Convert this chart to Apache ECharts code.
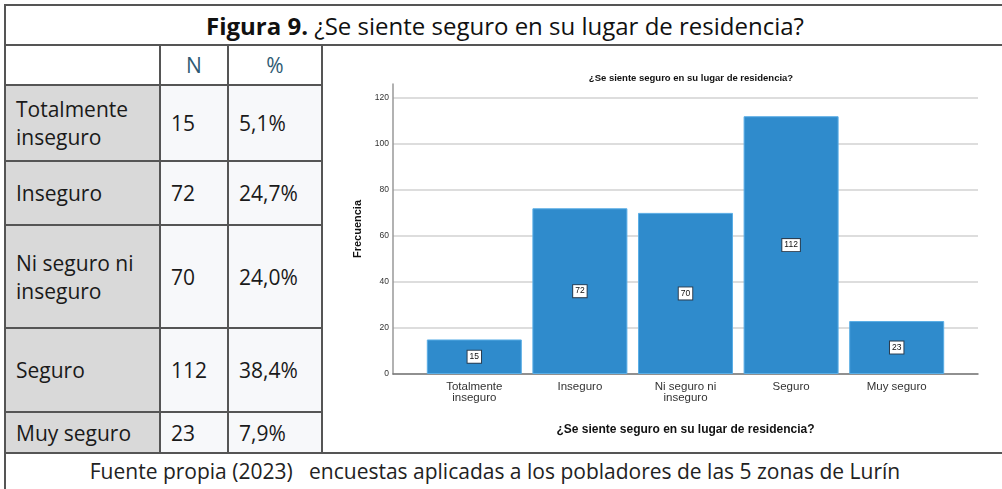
<!DOCTYPE html>
<html>
<head>
<meta charset="utf-8">
<script src="https://cdn.jsdelivr.net/npm/echarts@6/dist/echarts.min.js"></script>
<style>
  html, body { margin:0; padding:0; background:#fff; }
  body { width:1002px; height:489px; position:relative; overflow:hidden; font-family:"Open Sans", "Noto Sans", sans-serif; color:#1a1a1a; }
  .cell { position:absolute; display:flex; align-items:center; box-sizing:border-box; font-size:21px; line-height:28px; }
  .lab { background:#d9d9d9; padding-left:11px; }
  .num { background:#f7f8fa; padding-left:11px; }
  .hdr { justify-content:center; color:#2f5b73; }
  .ln { position:absolute; background:#555; }
  #title { position:absolute; left:5px; top:5px; width:1000px; height:40px; display:flex; align-items:center; justify-content:center; font-size:24px; color:#111; white-space:nowrap; }
  #foot { position:absolute; left:5px; top:453px; width:980px; height:36px; display:flex; align-items:center; justify-content:center; font-size:21px; color:#222; white-space:pre; }
  #chart { position:absolute; left:0; top:0; width:1002px; height:489px; z-index:5; pointer-events:none; }
</style>
</head>
<body>
<div id="title"><b>Figura 9.</b>&nbsp;¿Se siente seguro en su lugar de residencia?</div>
<div id="table"></div>
<div id="foot"></div>
<div id="lines"></div>
<div id="chart"></div>
<script>
// ---- data ----
const rowLabels = ['Totalmente\ninseguro', 'Inseguro', 'Ni seguro ni\ninseguro', 'Seguro', 'Muy seguro'];
const categories = ['Totalmente\ninseguro', 'Inseguro', 'Ni seguro ni\ninseguro', 'Seguro', 'Muy seguro'];
const frecuencia = [15, 72, 70, 112, 23];
const porcentajes = ['5,1%', '24,7%', '24,0%', '38,4%', '7,9%'];
const headerN = 'N';
const headerPct = '%';
const chartTitle = '¿Se siente seguro en su lugar de residencia?';
const xAxisName = '¿Se siente seguro en su lugar de residencia?';
const yAxisName = 'Frecuencia';
const footText = 'Fuente propia (2023)   encuestas aplicadas a los pobladores de las 5 zonas de Lurín';

// ---- table layout ----
const colX = [5, 160, 228, 322];
const rowY = [45, 85, 161, 225, 328, 412, 453];
const table = document.getElementById('table');
function addCell(cls, x0, x1, y0, y1, html) {
  const d = document.createElement('div');
  d.className = 'cell ' + cls;
  d.style.left = x0 + 'px'; d.style.top = y0 + 'px';
  d.style.width = (x1 - x0) + 'px'; d.style.height = (y1 - y0) + 'px';
  d.innerHTML = html;
  table.appendChild(d);
}
addCell('hdr', colX[1], colX[2], rowY[0], rowY[1], headerN);
addCell('hdr', colX[2], colX[3], rowY[0], rowY[1], headerPct);
for (let i = 0; i < rowLabels.length; i++) {
  addCell('lab', colX[0], colX[1], rowY[i + 1], rowY[i + 2], rowLabels[i].replace('\n', '<br>'));
  addCell('num', colX[1], colX[2], rowY[i + 1], rowY[i + 2], String(frecuencia[i]));
  addCell('num', colX[2], colX[3], rowY[i + 1], rowY[i + 2], porcentajes[i]);
}
document.getElementById('foot').textContent = footText;

// ---- grid lines of the figure ----
const lines = document.getElementById('lines');
function addLine(x, y, w, h) {
  const d = document.createElement('div');
  d.className = 'ln';
  d.style.left = x + 'px'; d.style.top = y + 'px'; d.style.width = w + 'px'; d.style.height = h + 'px';
  lines.appendChild(d);
}
addLine(4, 4, 1000, 2);      // top
addLine(4, 4, 2, 490);       // left
addLine(4, 44, 1000, 2);     // under title
addLine(4, 452, 1000, 2);    // above footer
[160, 228, 322].forEach(x => addLine(x - 1, 45, 2, 408));
[85, 161, 225, 328, 412].forEach(y => addLine(4, y - 1, 319, 2));

// ---- chart ----
const FF = '"Liberation Sans", Arial, sans-serif';
const chart = echarts.init(document.getElementById('chart'), null, { renderer: 'canvas' });
chart.setOption({
  animation: false,
  title: {
    text: chartTitle, left: 686, top: 68, textAlign: 'center',
    textStyle: { fontFamily: FF, fontSize: 9.5, fontWeight: 'bold', color: '#111' }
  },
  grid: [
    { left: 421.5, right: 52.5, top: 84, bottom: 115 },
    { left: 393, right: 24, top: 84, bottom: 115 }
  ],
  xAxis: [
    {
      type: 'category', gridIndex: 0, data: categories,
      axisLine: { show: false }, axisTick: { show: false },
      axisLabel: { fontFamily: FF, fontSize: 11.5, lineHeight: 11.5, color: '#333', margin: 7, interval: 0 },
      name: xAxisName, nameLocation: 'middle', nameGap: 50,
      nameTextStyle: { fontFamily: FF, fontSize: 12, fontWeight: 'bold', color: '#111' }
    },
    {
      type: 'value', gridIndex: 1, min: 0, max: 1,
      axisLine: { show: true, lineStyle: { color: '#777', width: 1.5 } },
      axisTick: { show: false }, axisLabel: { show: false }, splitLine: { show: false }
    }
  ],
  yAxis: [
    { type: 'value', gridIndex: 0, min: 0, max: 126, show: false, splitLine: { show: false } },
    {
      type: 'value', gridIndex: 1, min: 0, max: 126, interval: 20,
      axisLine: { show: true, lineStyle: { color: '#999', width: 1.5 } },
      axisTick: { show: false },
      axisLabel: { fontFamily: FF, fontSize: 8.5, color: '#333', margin: 4, showMaxLabel: false },
      splitLine: { show: true, showMaxLine: false, lineStyle: { color: '#d2d2d2', width: 1.5 } },
      name: yAxisName, nameLocation: 'middle', nameGap: 30, nameRotate: 90,
      nameTextStyle: { fontFamily: FF, fontSize: 11, fontWeight: 'bold', color: '#111' }
    }
  ],
  series: [{
    type: 'bar', xAxisIndex: 0, yAxisIndex: 0, data: frecuencia, barWidth: 95,
    itemStyle: { color: '#2f8bcc', borderColor: '#5aaee6', borderWidth: 1 },
    label: {
      show: true, position: 'inside', fontFamily: FF, fontSize: 8.5, color: '#111',
      backgroundColor: '#fff', borderColor: '#2c3e50', borderWidth: 1, padding: [2, 2, 1, 2]
    }
  }]
});
</script>
</body>
</html>
